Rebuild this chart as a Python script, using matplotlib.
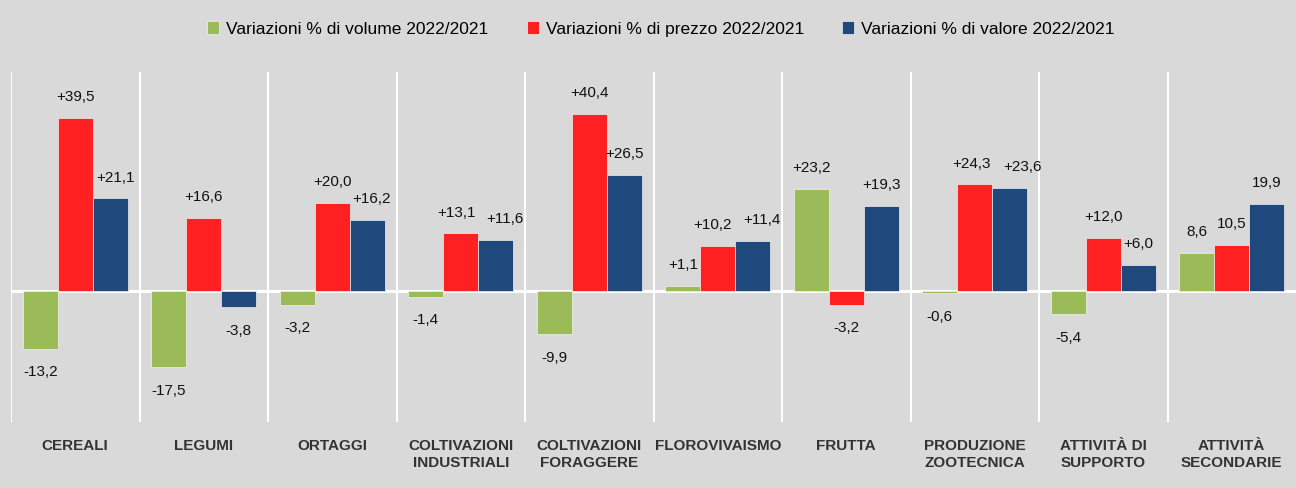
import numpy as np
import matplotlib.pyplot as plt

plt.rcParams['font.family'] = ['Liberation Sans', 'DejaVu Sans']

categories = ['CEREALI', 'LEGUMI', 'ORTAGGI', 'COLTIVAZIONI\nINDUSTRIALI', 'COLTIVAZIONI\nFORAGGERE',
              'FLOROVIVAISMO', 'FRUTTA', 'PRODUZIONE\nZOOTECNICA', 'ATTIVITÀ DI\nSUPPORTO',
              'ATTIVITÀ\nSECONDARIE']
volume = [-13.2, -17.5, -3.2, -1.4, -9.9, 1.1, 23.2, -0.6, -5.4, 8.6]
prezzo = [39.5, 16.6, 20.0, 13.1, 40.4, 10.2, -3.2, 24.3, 12.0, 10.5]
valore = [21.1, -3.8, 16.2, 11.6, 26.5, 11.4, 19.3, 23.6, 6.0, 19.9]
series_names = ['Variazioni % di volume 2022/2021', 'Variazioni % di prezzo 2022/2021',
                'Variazioni % di valore 2022/2021']
colors = ['#9bbb59', '#ff2121', '#1f497d']

# small sideways shifts (points) so that neighbouring labels don't collide
nudge = {(0, 2): 4, (2, 2): 3, (3, 1): -3, (3, 2): 7, (5, 1): -4, (5, 2): 7,
         (7, 2): 9, (7, 1): -2}

bg = '#d9d9d9'
fig = plt.figure(figsize=(12.96, 4.88), dpi=100, facecolor=bg)
ax = fig.add_axes([11 / 1296, 66 / 488, 1 - 11 / 1296, 350 / 488])
ax.set_facecolor(bg)

x = np.arange(len(categories))
w = 0.272
for i, (vals, c, name) in enumerate(zip([volume, prezzo, valore], colors, series_names)):
    xs = x + (i - 1) * w
    ax.bar(xs, vals, w, color=c, label=name, edgecolor='#f0f0f0', linewidth=0.5, zorder=2)
    for j, (xi, v) in enumerate(zip(xs, vals)):
        # the last category has no sign in the source
        if j == len(categories) - 1:
            txt = f'{v:.1f}'.replace('.', ',')
        else:
            txt = f'{v:+.1f}'.replace('.', ',')
        dy = 15 if v >= 0 else -17
        ax.annotate(txt, (xi, v), xytext=(nudge.get((j, i), 0), dy), textcoords='offset points',
                    ha='center', va='center', fontsize=11, color='#111111', zorder=3)

ax.set_xlim(-0.5, len(categories) - 0.5)
ax.set_ylim(-30, 50)
for b in np.arange(len(categories)) - 0.5:
    ax.axvline(b, color='white', lw=1.5, zorder=1)
ax.axhline(0, color='white', lw=2.2, zorder=1)

ax.set_xticks(x)
ax.set_xticklabels(categories, fontsize=11, fontweight='bold', color='#333333', linespacing=1.3)
ax.tick_params(axis='x', length=0, pad=12)
ax.set_yticks([])
for s in ax.spines.values():
    s.set_visible(False)

fig.legend(loc='upper center', bbox_to_anchor=(0.51, 0.988), ncol=3, frameon=False,
           fontsize=12.5, handlelength=0.7, handleheight=0.7, handletextpad=0.4,
           columnspacing=2.2)

fig.savefig('out.png', dpi=100, facecolor=bg)
